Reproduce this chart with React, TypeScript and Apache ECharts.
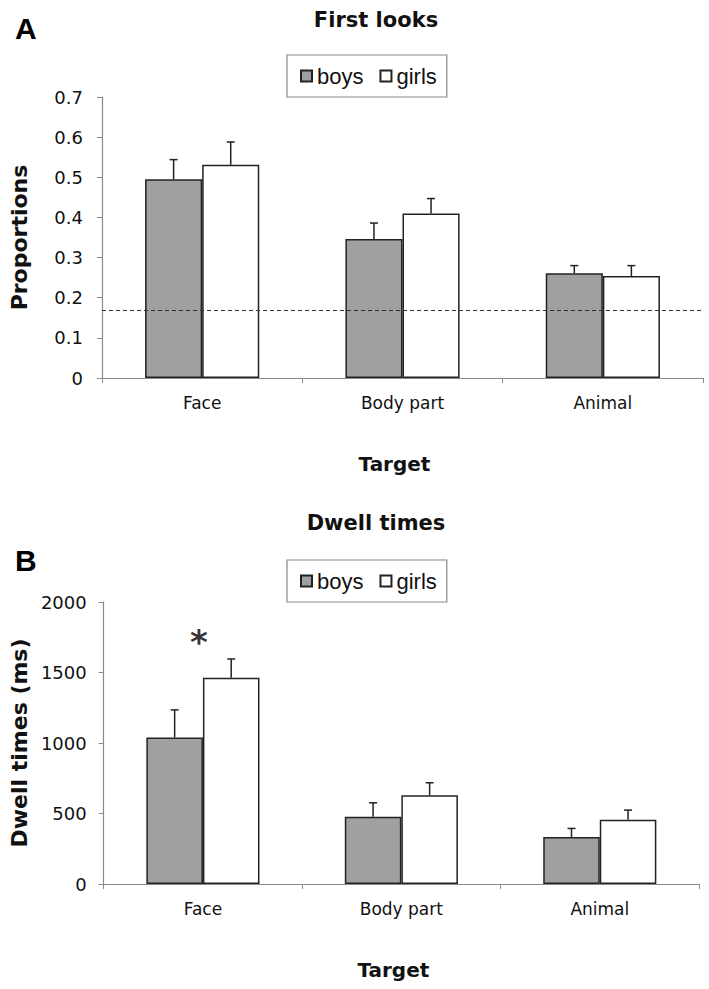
import React, { useEffect, useRef } from "react";
import * as echarts from "echarts";

const categories = ["Face", "Body part", "Animal"];
const seriesNames = ["boys", "girls"];

// Panel A: first looks (proportions)
const firstBoys = [0.495, 0.346, 0.261];
const firstBoysErr = [0.049, 0.04, 0.019];
const firstGirls = [0.531, 0.41, 0.254];
const firstGirlsErr = [0.057, 0.037, 0.026];
const chanceLevel = 0.165;
const firstTicks = { min: 0, max: 0.7, interval: 0.1 };

// Panel B: dwell times (ms)
const dwellBoys = [1039, 477, 333];
const dwellBoysErr = [196, 99, 61];
const dwellGirls = [1462, 630, 456];
const dwellGirlsErr = [134, 88, 68];
const dwellTicks = { min: 0, max: 2000, interval: 500 };
const significantIndex = 0;

const BAR_FRAC = 0.285;
const TXT = "#111";
const AXIS = "#8a8a8a";
const FONT = "DejaVu Sans";

function errorSeries(values: number[], errs: number[], sign: number, idx: number) {
  return {
    type: "custom",
    xAxisIndex: idx,
    yAxisIndex: idx,
    silent: true,
    z: 5,
    encode: { x: 0, y: 1 },
    data: values.map((v, i) => [i, v, errs[i]]),
    renderItem: (params: any, api: any) => {
      const cat = api.value(0);
      const v = api.value(1);
      const e = api.value(2);
      const base = api.coord([cat, v]);
      const top = api.coord([cat, v + e]);
      const band = api.size([1, 0])[0];
      const x = base[0] + (sign * band * BAR_FRAC) / 2;
      const st = { stroke: "#222", lineWidth: 1.5 };
      return {
        type: "group",
        children: [
          { type: "line", shape: { x1: x, y1: base[1], x2: x, y2: top[1] }, style: st },
          { type: "line", shape: { x1: x - 4, y1: top[1], x2: x + 4, y2: top[1] }, style: st },
        ],
      };
    },
  };
}

function barSeries(name: string, values: number[], color: string, idx: number, extra: any = {}) {
  return {
    type: "bar",
    name,
    xAxisIndex: idx,
    yAxisIndex: idx,
    data: values,
    barWidth: BAR_FRAC * 100 + "%",
    barGap: "0%",
    itemStyle: { color, borderColor: "#222", borderWidth: 1.5 },
    ...extra,
  };
}

function xAxis(idx: number) {
  return {
    type: "category",
    gridIndex: idx,
    data: categories,
    axisLine: { lineStyle: { color: AXIS, width: 1.2 } },
    axisTick: { show: true, length: 5, lineStyle: { color: AXIS } },
    axisLabel: { color: TXT, fontFamily: FONT, fontSize: 17, margin: 16 },
    name: "Target",
    nameLocation: "middle",
    nameGap: 76,
    nameTextStyle: { color: TXT, fontFamily: FONT, fontWeight: "bold", fontSize: 20, padding: [0, 16, 0, 0] },
  };
}

function yAxis(idx: number, ticks: any, name: string, gap: number, fmt: (v: number) => string, margin: number) {
  return {
    type: "value",
    gridIndex: idx,
    min: ticks.min,
    max: ticks.max,
    interval: ticks.interval,
    splitLine: { show: false },
    axisLine: { show: true, lineStyle: { color: AXIS, width: 1.2 } },
    axisTick: { show: true, length: 5, lineStyle: { color: AXIS } },
    axisLabel: { color: TXT, fontFamily: FONT, fontSize: 18, margin, formatter: fmt },
    name,
    nameLocation: "middle",
    nameGap: gap,
    nameTextStyle: { color: TXT, fontFamily: FONT, fontWeight: "bold", fontSize: 22 },
  };
}

function legend(top: number) {
  return {
    left: 287,
    top,
    orient: "horizontal",
    data: seriesNames,
    icon: "rect",
    itemWidth: 11,
    itemHeight: 11,
    itemGap: 16,
    padding: [10, 10, 10, 13],
    borderColor: "#888",
    borderWidth: 1.2,
    textStyle: { color: TXT, fontFamily: "Liberation Sans", fontSize: 22 },
  };
}

export default function App() {
  const ref = useRef<HTMLDivElement>(null);
  useEffect(() => {
    if (!ref.current) return;
    const chart = echarts.init(ref.current, null, { renderer: "svg" });
    const titleStyle = { fontFamily: FONT, fontWeight: "bold", fontSize: 21, color: TXT };
    const option: any = {
      animation: false,
      backgroundColor: "#fff",
      title: [
        { text: "First looks", left: 371, top: 4, textAlign: "center", textStyle: titleStyle },
        { text: "Dwell times", left: 371, top: 507, textAlign: "center", textStyle: titleStyle },
        { text: "A", left: 10, top: 8, textStyle: { fontFamily: "Liberation Sans", fontWeight: "bold", fontSize: 30, color: "#000" } },
        { text: "B", left: 10, top: 540, textStyle: { fontFamily: "Liberation Sans", fontWeight: "bold", fontSize: 30, color: "#000" } },
      ],
      legend: [legend(55), legend(560)],
      grid: [
        { left: 97, top: 97, width: 606, height: 281 },
        { left: 100, top: 602, width: 599, height: 282 },
      ],
      xAxis: [xAxis(0), xAxis(1)],
      yAxis: [
        yAxis(0, firstTicks, "Proportions", 72, (v: number) => (v === 0 ? "0" : v.toFixed(1)), 19),
        yAxis(1, dwellTicks, "Dwell times (ms)", 73, (v: number) => String(v), 17),
      ],
      series: [
        barSeries("boys", firstBoys, "#a0a0a0", 0, {
          markLine: {
            silent: true,
            symbol: "none",
            label: { show: false },
            lineStyle: { type: [4, 3], color: "#333", width: 1 },
            data: [{ yAxis: chanceLevel }],
          },
        }),
        barSeries("girls", firstGirls, "#ffffff", 0),
        errorSeries(firstBoys, firstBoysErr, -1, 0),
        errorSeries(firstGirls, firstGirlsErr, 1, 0),
        barSeries("boys", dwellBoys, "#a0a0a0", 1),
        barSeries("girls", dwellGirls, "#ffffff", 1),
        errorSeries(dwellBoys, dwellBoysErr, -1, 1),
        errorSeries(dwellGirls, dwellGirlsErr, 1, 1),
        {
          type: "scatter",
          xAxisIndex: 1,
          yAxisIndex: 1,
          silent: true,
          symbolSize: 0,
          itemStyle: { color: "#000" },
          data: [[significantIndex, dwellGirls[significantIndex] + dwellGirlsErr[significantIndex] + 120]],
          label: {
            show: true,
            position: "inside",
            offset: [-4, 0],
            formatter: "*",
            fontFamily: FONT,
            fontWeight: "bold",
            fontSize: 34,
            color: "#000",
            textBorderWidth: 0,
          },
        },
      ],
    };
    chart.setOption(option);
    return () => chart.dispose();
  }, []);
  return <div ref={ref} style={{ position: "absolute", left: 0, top: 0, width: 709, height: 989 }} />;
}
